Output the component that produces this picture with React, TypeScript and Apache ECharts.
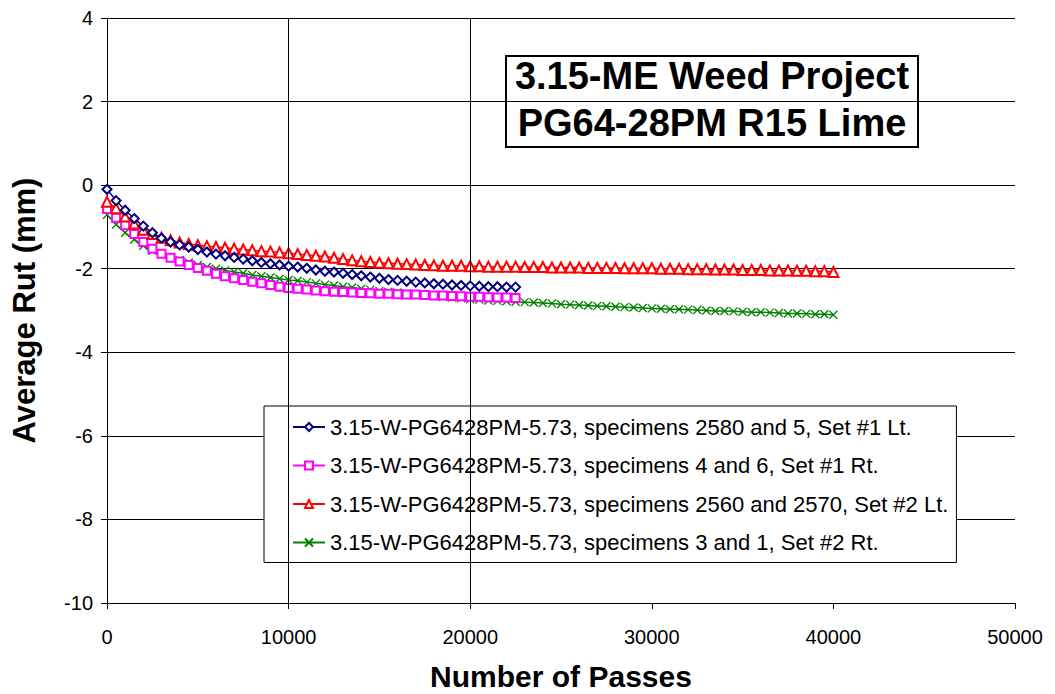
import React, { useEffect, useRef } from "react";
import * as echarts from "echarts";

const PASSES = [
  0, 500, 1000, 1500, 2000, 2500, 3000, 3500, 4000, 4500,
  5000, 5500, 6000, 6500, 7000, 7500, 8000, 8500, 9000, 9500,
  10000, 10500, 11000, 11500, 12000, 12500, 13000, 13500, 14000, 14500,
  15000, 15500, 16000, 16500, 17000, 17500, 18000, 18500, 19000, 19500,
  20000, 20500, 21000, 21500, 22000, 22500, 23000, 23500, 24000, 24500,
  25000, 25500, 26000, 26500, 27000, 27500, 28000, 28500, 29000, 29500,
  30000, 30500, 31000, 31500, 32000, 32500, 33000, 33500, 34000, 34500,
  35000, 35500, 36000, 36500, 37000, 37500, 38000, 38500, 39000, 39500,
  40000,
];

const SET1_LT = [
  -0.1, -0.37, -0.6, -0.8, -0.98, -1.14, -1.27, -1.36, -1.43, -1.48,
  -1.54, -1.6, -1.65, -1.69, -1.73, -1.77, -1.81, -1.85, -1.88, -1.91,
  -1.94, -1.96, -1.99, -2.03, -2.06, -2.08, -2.11, -2.14, -2.17, -2.2,
  -2.23, -2.26, -2.28, -2.3, -2.32, -2.34, -2.36, -2.37, -2.39, -2.4,
  -2.41, -2.42, -2.43, -2.43, -2.44, -2.44,
];

const SET1_RT = [
  -0.57, -0.78, -0.96, -1.17, -1.36, -1.52, -1.64, -1.74, -1.83, -1.91,
  -1.98, -2.05, -2.12, -2.18, -2.23, -2.27, -2.31, -2.35, -2.39, -2.43,
  -2.46, -2.48, -2.5, -2.52, -2.54, -2.55, -2.56, -2.57, -2.58, -2.59,
  -2.6, -2.6, -2.61, -2.62, -2.62, -2.63, -2.64, -2.64, -2.65, -2.66,
  -2.67, -2.67, -2.68, -2.69, -2.69, -2.7,
];

const SET2_LT = [
  -0.4, -0.55, -0.75, -0.92, -1.07, -1.17, -1.26, -1.32, -1.37, -1.41,
  -1.44, -1.46, -1.48, -1.5, -1.52, -1.54, -1.56, -1.58, -1.59, -1.61,
  -1.63, -1.65, -1.67, -1.69, -1.71, -1.74, -1.77, -1.8, -1.82, -1.84,
  -1.86, -1.87, -1.88, -1.89, -1.9, -1.91, -1.92, -1.93, -1.93, -1.93,
  -1.94, -1.94, -1.95, -1.95, -1.95, -1.95, -1.96, -1.96, -1.96, -1.97,
  -1.97, -1.97, -1.97, -1.98, -1.98, -1.98, -1.98, -1.99, -1.99, -1.99,
  -1.99, -2.0, -2.0, -2.0, -2.01, -2.01, -2.01, -2.02, -2.02, -2.02,
  -2.03, -2.03, -2.03, -2.04, -2.04, -2.04, -2.05, -2.05, -2.06, -2.06,
  -2.08,
];

const SET2_RT = [
  -0.71, -0.94, -1.14, -1.3, -1.45, -1.57, -1.66, -1.73, -1.79, -1.85,
  -1.91, -1.96, -2.0, -2.04, -2.08, -2.11, -2.15, -2.18, -2.21, -2.24,
  -2.27, -2.29, -2.32, -2.35, -2.38, -2.4, -2.43, -2.45, -2.48, -2.5,
  -2.53, -2.55, -2.57, -2.59, -2.61, -2.63, -2.65, -2.67, -2.69, -2.71,
  -2.73, -2.74, -2.76, -2.77, -2.78, -2.79, -2.8, -2.81, -2.82, -2.83,
  -2.85, -2.86, -2.87, -2.88, -2.89, -2.9, -2.91, -2.92, -2.93, -2.94,
  -2.95, -2.96, -2.97, -2.97, -2.98, -2.99, -3.0, -3.01, -3.01, -3.02,
  -3.03, -3.04, -3.04, -3.05, -3.06, -3.07, -3.07, -3.08, -3.09, -3.09,
  -3.1,
];

const SERIES_NAMES = [
  "3.15-W-PG6428PM-5.73, specimens 2580 and 5, Set #1 Lt.",
  "3.15-W-PG6428PM-5.73, specimens 4 and 6, Set #1 Rt.",
  "3.15-W-PG6428PM-5.73, specimens 2560 and 2570, Set #2 Lt.",
  "3.15-W-PG6428PM-5.73, specimens 3 and 1, Set #2 Rt.",
];

const VERTICAL_GRID = [10000, 20000];
const TITLE_LINES = ["3.15-ME Weed Project", "PG64-28PM R15 Lime"];

const FONT = "'Liberation Sans', Arial, sans-serif";

function pair(ys: number[]) {
  return ys.map((y, i) => [PASSES[i], y]);
}

export default function App() {
  const ref = useRef<HTMLDivElement>(null);
  useEffect(() => {
    if (!ref.current) return;
    const chart = echarts.init(ref.current, undefined, { renderer: "svg" });
    const mk = (
      name: string,
      ys: number[],
      color: string,
      symbol: string,
      size: number,
      z: number
    ) => ({
      type: "line",
      name,
      data: pair(ys),
      symbol,
      symbolSize: size,
      z,
      lineStyle: { color, width: 1.5 },
      itemStyle: { color, borderColor: color, borderWidth: 1.3 },
      emphasis: { disabled: true },
      silent: true,
    });
    chart.setOption({
      animation: false,
      backgroundColor: "#fff",
      textStyle: { fontFamily: FONT },
      grid: {
        left: 107,
        right: 40,
        top: 18,
        bottom: 91,
        containLabel: false,
        outerBoundsMode: "none",
      },
      xAxis: {
        type: "value",
        min: 0,
        max: 50000,
        interval: 10000,
        name: "Number of Passes",
        nameLocation: "middle",
        nameGap: 58,
        nameTextStyle: {
          fontFamily: FONT,
          fontWeight: "bold",
          fontSize: 30,
          lineHeight: 30,
          color: "#000",
        },
        axisLine: { onZero: false, lineStyle: { color: "#000", width: 1 } },
        axisTick: { show: true, length: 6, lineStyle: { color: "#000" } },
        axisLabel: {
          color: "#000",
          fontSize: 20,
          fontFamily: FONT,
          margin: 24,
          formatter: (v: number) => String(v),
        },
        splitLine: { show: false },
      },
      yAxis: {
        type: "value",
        min: -10,
        max: 4,
        interval: 2,
        name: "Average Rut (mm)",
        nameLocation: "middle",
        nameGap: 67,
        nameTextStyle: { fontFamily: FONT, fontWeight: "bold", fontSize: 31, color: "#000" },
        axisLine: { onZero: false, lineStyle: { color: "#000", width: 1 } },
        axisTick: { show: true, length: 6, lineStyle: { color: "#000" } },
        axisLabel: { color: "#000", fontSize: 20, fontFamily: FONT, margin: 14 },
        splitLine: { show: true, lineStyle: { color: "#000", width: 1 } },
      },
      legend: {
        orient: "vertical",
        left: 264,
        top: 406,
        data: SERIES_NAMES,
        backgroundColor: "#fff",
        borderColor: "#000",
        borderWidth: 1,
        padding: [9, 8, 8, 28],
        itemWidth: 32,
        itemHeight: 10,
        itemGap: 14.5,
        textStyle: { fontFamily: FONT, fontSize: 22, color: "#000", lineHeight: 24 },
        selectedMode: false,
      },
      graphic: [
        {
          type: "group",
          left: 505,
          top: 55,
          z: 100,
          children: [
            {
              type: "rect",
              shape: { x: 0, y: 0, width: 412, height: 91 },
              style: { fill: "#fff", stroke: "#000", lineWidth: 2 },
            },
            {
              type: "text",
              x: 206,
              y: 20,
              style: {
                text: TITLE_LINES[0],
                fill: "#000",
                font: `bold 38px ${FONT}`,
                textAlign: "center",
                textVerticalAlign: "middle",
              },
            },
            {
              type: "text",
              x: 206,
              y: 67,
              style: {
                text: TITLE_LINES[1],
                fill: "#000",
                font: `bold 38px ${FONT}`,
                textAlign: "center",
                textVerticalAlign: "middle",
              },
            },
          ],
        },
      ],
      series: [
        {
          type: "line",
          name: "vgrid",
          data: [],
          z: 1,
          silent: true,
          markLine: {
            silent: true,
            symbol: "none",
            label: { show: false },
            lineStyle: { color: "#000", width: 1, type: "solid" },
            data: VERTICAL_GRID.map((x) => ({ xAxis: x })),
          },
        },
        mk(SERIES_NAMES[0], SET1_LT, "#000080", "emptyDiamond", 9, 5),
        mk(SERIES_NAMES[1], SET1_RT, "#FF00FF", "emptyRect", 8, 3),
        mk(SERIES_NAMES[2], SET2_LT, "#FF0000", "emptyTriangle", 10, 4),
        mk(SERIES_NAMES[3], SET2_RT, "#008000", "path://M0,0L10,10M10,0L0,10", 8, 2),
      ],
    });
    return () => chart.dispose();
  }, []);
  return (
    <div
      ref={ref}
      style={{ position: "fixed", left: 0, top: 0, width: 1055, height: 694 }}
    />
  );
}
